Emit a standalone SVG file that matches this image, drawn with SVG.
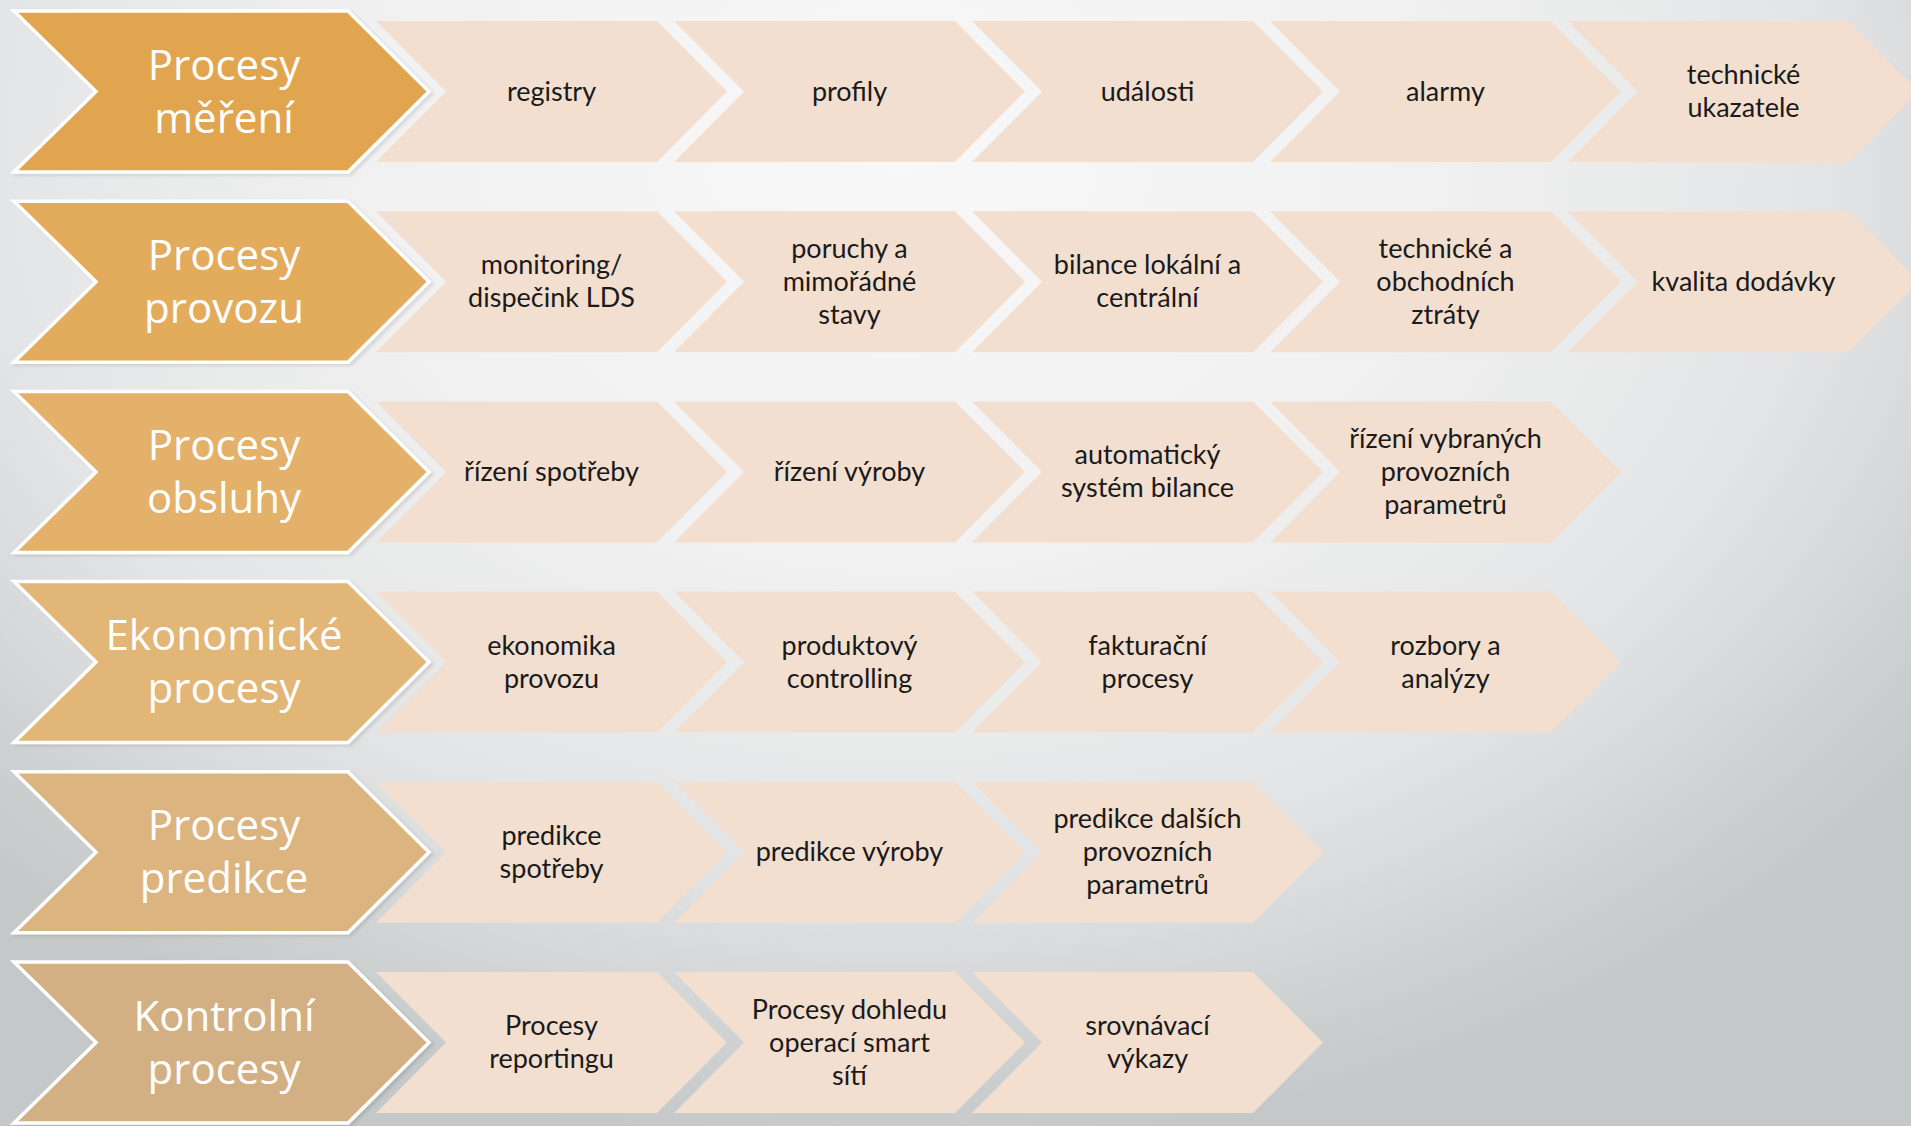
<svg xmlns="http://www.w3.org/2000/svg" xmlns:xlink="http://www.w3.org/1999/xlink" width="1911" height="1126" viewBox="0 0 1911 1126">
<defs>
<radialGradient id="bg" gradientUnits="userSpaceOnUse" cx="900" cy="150" r="1000" gradientTransform="translate(900 150) scale(1.3 1) translate(-900 -150)">
<stop offset="0" stop-color="#F8F8F8"/>
<stop offset="0.4" stop-color="#F1F1F1"/>
<stop offset="0.7" stop-color="#E4E5E6"/>
<stop offset="1" stop-color="#C4C8C9"/>
</radialGradient>
<filter id="sh" x="-5%" y="-5%" width="115%" height="115%">
<feDropShadow dx="3" dy="2" stdDeviation="1.5" flood-color="#000" flood-opacity="0.1"/>
</filter>
<path id="small" d="M0,-70.5 H281 L351,0 L281,70.5 H0 L70,0 Z"/>
<path id="big" d="M14,-80.5 H348 L429,0 L348,80.5 H14 L96,0 Z"/>
</defs>
<style>
.sm{fill:#F2DFD0}
.bg{stroke:#FFFFFF;stroke-width:3.5;stroke-linejoin:miter}
.bt{font-family:"Open Sans","Noto Sans",sans-serif;font-size:42px;fill:#FFFFFF;text-anchor:middle}
.st{font-family:Lato,"Open Sans",sans-serif;font-size:27px;fill:#1A1A1A;text-anchor:middle}
</style>
<rect width="1911" height="1126" fill="url(#bg)"/>
<g id="connectors"/>

<!-- Row 1 -->
<g id="row1">
<g id="n1-1"><use xlink:href="#small" class="sm" x="376" y="91.5"/><text class="st" x="551.5" y="100.5">registry</text></g>
<g id="n1-2"><use xlink:href="#small" class="sm" x="674" y="91.5"/><text class="st" x="849.5" y="100.5">profily</text></g>
<g id="n1-3"><use xlink:href="#small" class="sm" x="972" y="91.5"/><text class="st" x="1147.5" y="100.5">události</text></g>
<g id="n1-4"><use xlink:href="#small" class="sm" x="1270" y="91.5"/><text class="st" x="1445.5" y="100.5">alarmy</text></g>
<g id="n1-5"><use xlink:href="#small" class="sm" x="1568" y="91.5"/><text class="st" x="1743.5" y="84">technické</text><text class="st" x="1743.5" y="117">ukazatele</text></g>
</g>
<g id="h1"><use xlink:href="#big" class="bg" fill="#E2A550" y="91.5" filter="url(#sh)"/><text class="bt" x="224" y="79.5">Procesy</text><text class="bt" x="224" y="132.5">měření</text></g>

<!-- Row 2 -->
<g id="row2">
<g id="n2-1"><use xlink:href="#small" class="sm" x="376" y="281.7"/><text class="st" x="551.5" y="274.2">monitoring/</text><text class="st" x="551.5" y="307.2">dispečink LDS</text></g>
<g id="n2-2"><use xlink:href="#small" class="sm" x="674" y="281.7"/><text class="st" x="849.5" y="257.7">poruchy a</text><text class="st" x="849.5" y="290.7">mimořádné</text><text class="st" x="849.5" y="323.7">stavy</text></g>
<g id="n2-3"><use xlink:href="#small" class="sm" x="972" y="281.7"/><text class="st" x="1147.5" y="274.2">bilance lokální a</text><text class="st" x="1147.5" y="307.2">centrální</text></g>
<g id="n2-4"><use xlink:href="#small" class="sm" x="1270" y="281.7"/><text class="st" x="1445.5" y="257.7">technické a</text><text class="st" x="1445.5" y="290.7">obchodních</text><text class="st" x="1445.5" y="323.7">ztráty</text></g>
<g id="n2-5"><use xlink:href="#small" class="sm" x="1568" y="281.7"/><text class="st" x="1743.5" y="290.7">kvalita dodávky</text></g>
</g>
<g id="h2"><use xlink:href="#big" class="bg" fill="#E3AB5C" y="281.7" filter="url(#sh)"/><text class="bt" x="224" y="269.7">Procesy</text><text class="bt" x="224" y="322.7">provozu</text></g>

<!-- Row 3 -->
<g id="row3">
<g id="n3-1"><use xlink:href="#small" class="sm" x="376" y="471.9"/><text class="st" x="551.5" y="480.9">řízení spotřeby</text></g>
<g id="n3-2"><use xlink:href="#small" class="sm" x="674" y="471.9"/><text class="st" x="849.5" y="480.9">řízení výroby</text></g>
<g id="n3-3"><use xlink:href="#small" class="sm" x="972" y="471.9"/><text class="st" x="1147.5" y="464.4">automatický</text><text class="st" x="1147.5" y="497.4">systém bilance</text></g>
<g id="n3-4"><use xlink:href="#small" class="sm" x="1270" y="471.9"/><text class="st" x="1445.5" y="447.9">řízení vybraných</text><text class="st" x="1445.5" y="480.9">provozních</text><text class="st" x="1445.5" y="513.9">parametrů</text></g>
</g>
<g id="h3"><use xlink:href="#big" class="bg" fill="#E3B16A" y="471.9" filter="url(#sh)"/><text class="bt" x="224" y="459.9">Procesy</text><text class="bt" x="224" y="512.9">obsluhy</text></g>

<!-- Row 4 -->
<g id="row4">
<g id="n4-1"><use xlink:href="#small" class="sm" x="376" y="662.1"/><text class="st" x="551.5" y="654.6">ekonomika</text><text class="st" x="551.5" y="687.6">provozu</text></g>
<g id="n4-2"><use xlink:href="#small" class="sm" x="674" y="662.1"/><text class="st" x="849.5" y="654.6">produktový</text><text class="st" x="849.5" y="687.6">controlling</text></g>
<g id="n4-3"><use xlink:href="#small" class="sm" x="972" y="662.1"/><text class="st" x="1147.5" y="654.6">fakturační</text><text class="st" x="1147.5" y="687.6">procesy</text></g>
<g id="n4-4"><use xlink:href="#small" class="sm" x="1270" y="662.1"/><text class="st" x="1445.5" y="654.6">rozbory a</text><text class="st" x="1445.5" y="687.6">analýzy</text></g>
</g>
<g id="h4"><use xlink:href="#big" class="bg" fill="#E2B677" y="662.1" filter="url(#sh)"/><text class="bt" x="224" y="650.1">Ekonomické</text><text class="bt" x="224" y="703.1">procesy</text></g>

<!-- Row 5 -->
<g id="row5">
<g id="n5-1"><use xlink:href="#small" class="sm" x="376" y="852.3"/><text class="st" x="551.5" y="844.8">predikce</text><text class="st" x="551.5" y="877.8">spotřeby</text></g>
<g id="n5-2"><use xlink:href="#small" class="sm" x="674" y="852.3"/><text class="st" x="849.5" y="861.3">predikce výroby</text></g>
<g id="n5-3"><use xlink:href="#small" class="sm" x="972" y="852.3"/><text class="st" x="1147.5" y="828.3">predikce dalších</text><text class="st" x="1147.5" y="861.3">provozních</text><text class="st" x="1147.5" y="894.3">parametrů</text></g>
</g>
<g id="h5"><use xlink:href="#big" class="bg" fill="#DCB47F" y="852.3" filter="url(#sh)"/><text class="bt" x="224" y="840.3">Procesy</text><text class="bt" x="224" y="893.3">predikce</text></g>

<!-- Row 6 -->
<g id="row6">
<g id="n6-1"><use xlink:href="#small" class="sm" x="376" y="1042.5"/><text class="st" x="551.5" y="1035">Procesy</text><text class="st" x="551.5" y="1068">reportingu</text></g>
<g id="n6-2"><use xlink:href="#small" class="sm" x="674" y="1042.5"/><text class="st" x="849.5" y="1018.5">Procesy dohledu</text><text class="st" x="849.5" y="1051.5">operací smart</text><text class="st" x="849.5" y="1084.5">sítí</text></g>
<g id="n6-3"><use xlink:href="#small" class="sm" x="972" y="1042.5"/><text class="st" x="1147.5" y="1035">srovnávací</text><text class="st" x="1147.5" y="1068">výkazy</text></g>
</g>
<g id="h6"><use xlink:href="#big" class="bg" fill="#D3B083" y="1042.5" filter="url(#sh)"/><text class="bt" x="224" y="1030.5">Kontrolní</text><text class="bt" x="224" y="1083.5">procesy</text></g>
</svg>
